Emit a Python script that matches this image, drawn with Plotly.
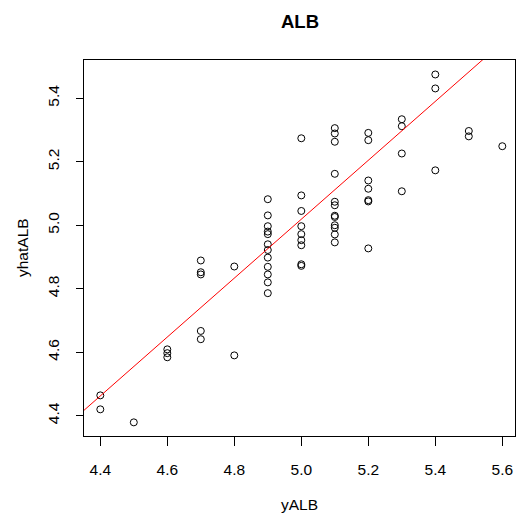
import plotly.graph_objects as go

# Observed values (yALB) and fitted values (yhatALB)
yALB = [4.4, 4.4,
        4.5,
        4.6, 4.6, 4.6,
        4.7, 4.7, 4.7, 4.7, 4.7,
        4.8, 4.8,
        4.9, 4.9, 4.9, 4.9, 4.9, 4.9, 4.9, 4.9, 4.9, 4.9, 4.9, 4.9,
        5.0, 5.0, 5.0, 5.0, 5.0, 5.0, 5.0, 5.0, 5.0,
        5.1, 5.1, 5.1, 5.1, 5.1, 5.1, 5.1, 5.1, 5.1, 5.1, 5.1, 5.1,
        5.2, 5.2, 5.2, 5.2, 5.2, 5.2, 5.2,
        5.3, 5.3, 5.3, 5.3,
        5.4, 5.4, 5.4,
        5.5, 5.5,
        5.6]
yhatALB = [4.464, 4.420,
           4.379,
           4.609, 4.597, 4.584,
           4.889, 4.852, 4.845, 4.667, 4.641,
           4.870, 4.590,
           5.082, 5.031, 4.997, 4.980, 4.972, 4.940, 4.922, 4.898, 4.869, 4.845, 4.820, 4.786,
           5.274, 5.094, 5.045, 4.997, 4.972, 4.953, 4.937, 4.877, 4.872,
           5.306, 5.289, 5.263, 5.162, 5.074, 5.063, 5.030, 5.026, 5.000, 4.992, 4.971, 4.946,
           5.291, 5.268, 5.141, 5.115, 5.079, 5.075, 4.927,
           5.334, 5.312, 5.226, 5.107,
           5.475, 5.431, 5.173,
           5.297, 5.280,
           5.249]

# Fitted regression line yhat = a + b*y
line_intercept = 0.379
line_slope = 0.928

x_ticks = [4.4, 4.6, 4.8, 5.0, 5.2, 5.4, 5.6]
y_ticks = [4.4, 4.6, 4.8, 5.0, 5.2, 5.4]

x_range = [4.3513, 5.6379]
y_range = [4.336, 5.5206]

FONT = "Liberation Sans, Arial, sans-serif"

fig = go.Figure()
fig.add_trace(go.Scatter(
    x=yALB, y=yhatALB, mode="markers",
    marker=dict(symbol="circle-open", size=7, color="black", line=dict(width=1, color="black")),
    showlegend=False, hoverinfo="skip",
))

fig.add_shape(type="line", xref="x", yref="y",
              x0=x_range[0], y0=line_intercept + line_slope * x_range[0],
              x1=x_range[1], y1=line_intercept + line_slope * x_range[1],
              line=dict(color="red", width=1))

axis_common = dict(showgrid=False, zeroline=False, showline=True, linecolor="black",
                   linewidth=1, mirror=True, ticks="outside", tickcolor="black",
                   tickwidth=1, tickfont=dict(family=FONT, size=15.5, color="black"))

fig.update_xaxes(range=x_range, tickvals=x_ticks, ticktext=[f"{v:.1f}" for v in x_ticks],
                 ticklen=9, ticklabelstandoff=10, **axis_common)
fig.update_yaxes(range=y_range, tickvals=y_ticks, ticktext=[f"{v:.1f}" for v in y_ticks],
                 ticklen=7, tickangle=-90, ticklabelstandoff=11, **axis_common)

fig.update_layout(
    width=516, height=516,
    margin=dict(l=84, r=1, t=60, b=80, autoexpand=False),
    plot_bgcolor="white", paper_bgcolor="white",
    annotations=[
        dict(text="<b>ALB</b>", xref="paper", yref="paper", x=0.5, y=1, yshift=39,
             showarrow=False, font=dict(family=FONT, size=18.5, color="black"),
             xanchor="center", yanchor="middle"),
        dict(text="yALB", xref="paper", yref="paper", x=0.5, y=0, yshift=-68,
             showarrow=False, font=dict(family=FONT, size=15.5, color="black"),
             xanchor="center", yanchor="middle"),
        dict(text="yhatALB", xref="paper", yref="paper", x=0, y=0.5, xshift=-62,
             textangle=-90, showarrow=False, font=dict(family=FONT, size=15.5, color="black"),
             xanchor="center", yanchor="middle"),
    ],
)

fig.write_html("out.html")
